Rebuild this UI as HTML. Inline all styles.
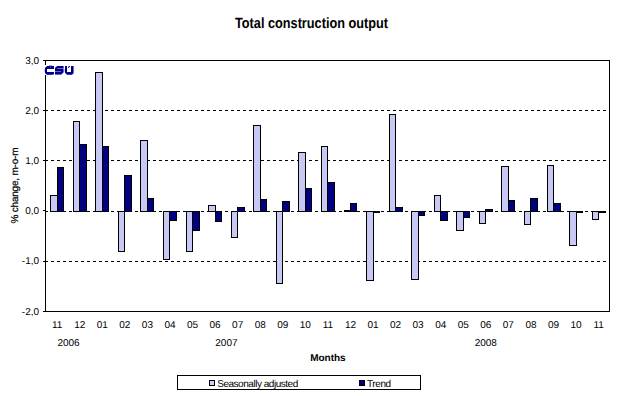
<!DOCTYPE html>
<html><head><meta charset="utf-8"><style>
html,body{margin:0;padding:0;background:#fff;width:626px;height:396px;overflow:hidden}
svg{display:block}
.t{font-family:"Liberation Sans",sans-serif;font-size:10px;fill:#000}
.b{font-weight:bold}
.title{font-family:"Liberation Sans",sans-serif;font-size:13.6px;font-weight:bold;fill:#000}
.lg{letter-spacing:-0.4px}
</style></head><body>
<svg width="626" height="396" viewBox="0 0 626 396" shape-rendering="crispEdges">
<line x1="45" y1="110.5" x2="609" y2="110.5" stroke="#000" stroke-width="1" stroke-dasharray="3 3"/>
<line x1="45" y1="160.5" x2="609" y2="160.5" stroke="#000" stroke-width="1" stroke-dasharray="3 3"/>
<line x1="45" y1="211.5" x2="609" y2="211.5" stroke="#000" stroke-width="1" stroke-dasharray="3 3"/>
<line x1="45" y1="261.5" x2="609" y2="261.5" stroke="#000" stroke-width="1" stroke-dasharray="3 3"/>
<rect x="50" y="195" width="8" height="17" fill="#000"/>
<rect x="51" y="196" width="6" height="15" fill="#c8c8f5"/>
<rect x="57" y="167" width="7" height="45" fill="#000"/>
<rect x="58" y="168" width="5" height="43" fill="#000080"/>
<rect x="73" y="121" width="7" height="91" fill="#000"/>
<rect x="74" y="122" width="5" height="89" fill="#c8c8f5"/>
<rect x="79" y="144" width="8" height="68" fill="#000"/>
<rect x="80" y="145" width="6" height="66" fill="#000080"/>
<rect x="95" y="72" width="8" height="140" fill="#000"/>
<rect x="96" y="73" width="6" height="138" fill="#c8c8f5"/>
<rect x="102" y="146" width="7" height="66" fill="#000"/>
<rect x="103" y="147" width="5" height="64" fill="#000080"/>
<rect x="118" y="211" width="7" height="41" fill="#000"/>
<rect x="119" y="212" width="5" height="39" fill="#c8c8f5"/>
<rect x="124" y="175" width="8" height="37" fill="#000"/>
<rect x="125" y="176" width="6" height="35" fill="#000080"/>
<rect x="140" y="140" width="8" height="72" fill="#000"/>
<rect x="141" y="141" width="6" height="70" fill="#c8c8f5"/>
<rect x="147" y="198" width="7" height="14" fill="#000"/>
<rect x="148" y="199" width="5" height="12" fill="#000080"/>
<rect x="163" y="211" width="7" height="49" fill="#000"/>
<rect x="164" y="212" width="5" height="47" fill="#c8c8f5"/>
<rect x="169" y="211" width="8" height="10" fill="#000"/>
<rect x="170" y="212" width="6" height="8" fill="#000080"/>
<rect x="186" y="211" width="7" height="41" fill="#000"/>
<rect x="187" y="212" width="5" height="39" fill="#c8c8f5"/>
<rect x="192" y="211" width="8" height="20" fill="#000"/>
<rect x="193" y="212" width="6" height="18" fill="#000080"/>
<rect x="208" y="205" width="8" height="7" fill="#000"/>
<rect x="209" y="206" width="6" height="5" fill="#c8c8f5"/>
<rect x="215" y="211" width="7" height="11" fill="#000"/>
<rect x="216" y="212" width="5" height="9" fill="#000080"/>
<rect x="231" y="211" width="7" height="27" fill="#000"/>
<rect x="232" y="212" width="5" height="25" fill="#c8c8f5"/>
<rect x="237" y="207" width="8" height="5" fill="#000"/>
<rect x="238" y="208" width="6" height="3" fill="#000080"/>
<rect x="253" y="125" width="8" height="87" fill="#000"/>
<rect x="254" y="126" width="6" height="85" fill="#c8c8f5"/>
<rect x="260" y="199" width="7" height="13" fill="#000"/>
<rect x="261" y="200" width="5" height="11" fill="#000080"/>
<rect x="276" y="211" width="7" height="73" fill="#000"/>
<rect x="277" y="212" width="5" height="71" fill="#c8c8f5"/>
<rect x="282" y="201" width="8" height="11" fill="#000"/>
<rect x="283" y="202" width="6" height="9" fill="#000080"/>
<rect x="298" y="152" width="8" height="60" fill="#000"/>
<rect x="299" y="153" width="6" height="58" fill="#c8c8f5"/>
<rect x="305" y="188" width="7" height="24" fill="#000"/>
<rect x="306" y="189" width="5" height="22" fill="#000080"/>
<rect x="321" y="146" width="7" height="66" fill="#000"/>
<rect x="322" y="147" width="5" height="64" fill="#c8c8f5"/>
<rect x="327" y="182" width="8" height="30" fill="#000"/>
<rect x="328" y="183" width="6" height="28" fill="#000080"/>
<rect x="344" y="210" width="7" height="2" fill="#000"/>
<rect x="350" y="203" width="7" height="9" fill="#000"/>
<rect x="351" y="204" width="5" height="7" fill="#000080"/>
<rect x="366" y="211" width="8" height="70" fill="#000"/>
<rect x="367" y="212" width="6" height="68" fill="#c8c8f5"/>
<rect x="373" y="211" width="7" height="2" fill="#000"/>
<rect x="389" y="114" width="7" height="98" fill="#000"/>
<rect x="390" y="115" width="5" height="96" fill="#c8c8f5"/>
<rect x="395" y="207" width="8" height="5" fill="#000"/>
<rect x="396" y="208" width="6" height="3" fill="#000080"/>
<rect x="411" y="211" width="8" height="69" fill="#000"/>
<rect x="412" y="212" width="6" height="67" fill="#c8c8f5"/>
<rect x="418" y="211" width="7" height="5" fill="#000"/>
<rect x="419" y="212" width="5" height="3" fill="#000080"/>
<rect x="434" y="195" width="7" height="17" fill="#000"/>
<rect x="435" y="196" width="5" height="15" fill="#c8c8f5"/>
<rect x="440" y="211" width="8" height="10" fill="#000"/>
<rect x="441" y="212" width="6" height="8" fill="#000080"/>
<rect x="456" y="211" width="8" height="20" fill="#000"/>
<rect x="457" y="212" width="6" height="18" fill="#c8c8f5"/>
<rect x="463" y="211" width="7" height="7" fill="#000"/>
<rect x="464" y="212" width="5" height="5" fill="#000080"/>
<rect x="479" y="211" width="7" height="13" fill="#000"/>
<rect x="480" y="212" width="5" height="11" fill="#c8c8f5"/>
<rect x="485" y="209" width="8" height="3" fill="#000"/>
<rect x="486" y="210" width="6" height="1" fill="#000080"/>
<rect x="501" y="166" width="8" height="46" fill="#000"/>
<rect x="502" y="167" width="6" height="44" fill="#c8c8f5"/>
<rect x="508" y="200" width="7" height="12" fill="#000"/>
<rect x="509" y="201" width="5" height="10" fill="#000080"/>
<rect x="524" y="211" width="7" height="14" fill="#000"/>
<rect x="525" y="212" width="5" height="12" fill="#c8c8f5"/>
<rect x="530" y="198" width="8" height="14" fill="#000"/>
<rect x="531" y="199" width="6" height="12" fill="#000080"/>
<rect x="547" y="165" width="7" height="47" fill="#000"/>
<rect x="548" y="166" width="5" height="45" fill="#c8c8f5"/>
<rect x="553" y="203" width="8" height="9" fill="#000"/>
<rect x="554" y="204" width="6" height="7" fill="#000080"/>
<rect x="569" y="211" width="8" height="35" fill="#000"/>
<rect x="570" y="212" width="6" height="33" fill="#c8c8f5"/>
<rect x="576" y="211" width="7" height="2" fill="#000"/>
<rect x="592" y="211" width="7" height="9" fill="#000"/>
<rect x="593" y="212" width="5" height="7" fill="#c8c8f5"/>
<rect x="598" y="211" width="8" height="2" fill="#000"/>
<rect x="45" y="60" width="565" height="1" fill="#000"/>
<rect x="45" y="311" width="565" height="1" fill="#000"/>
<rect x="45" y="60" width="1" height="252" fill="#000"/>
<rect x="609" y="60" width="1" height="252" fill="#000"/>
<rect x="43" y="60" width="5" height="1" fill="#000"/>
<rect x="43" y="110" width="5" height="1" fill="#000"/>
<rect x="43" y="160" width="5" height="1" fill="#000"/>
<rect x="43" y="261" width="5" height="1" fill="#000"/>
<rect x="43" y="311" width="5" height="1" fill="#000"/>
<rect x="43" y="210" width="2" height="1" fill="#000"/>
<rect x="46" y="211" width="2" height="1" fill="#000"/>
<rect x="45" y="65" width="1" height="10" fill="#fff"/>
<g fill="#00008c">
<rect x="49" y="65" width="3" height="1" fill-opacity="0.4"/>
<rect x="46" y="66" width="1" height="1" fill-opacity="0.4"/>
<rect x="47" y="66" width="3" height="1"/>
<rect x="50" y="66" width="1" height="1" fill-opacity="0.8"/>
<rect x="51" y="66" width="3" height="1"/>
<rect x="56" y="66" width="1" height="1" fill-opacity="0.4"/>
<rect x="57" y="66" width="6" height="1"/>
<rect x="63" y="66" width="1" height="1" fill-opacity="0.6"/>
<rect x="65" y="66" width="2" height="1"/>
<rect x="68" y="66" width="1" height="1" fill-opacity="0.4"/>
<rect x="69" y="66" width="1" height="1" fill-opacity="0.8"/>
<rect x="71" y="66" width="2" height="1"/>
<rect x="73" y="66" width="1" height="1" fill-opacity="0.6"/>
<rect x="45" y="67" width="1" height="1" fill-opacity="0.6"/>
<rect x="46" y="67" width="4" height="1"/>
<rect x="50" y="67" width="1" height="1" fill-opacity="0.8"/>
<rect x="51" y="67" width="3" height="1"/>
<rect x="55" y="67" width="1" height="1" fill-opacity="0.6"/>
<rect x="56" y="67" width="7" height="1"/>
<rect x="63" y="67" width="1" height="1" fill-opacity="0.6"/>
<rect x="65" y="67" width="2" height="1"/>
<rect x="68" y="67" width="1" height="1" fill-opacity="0.8"/>
<rect x="69" y="67" width="1" height="1" fill-opacity="0.2"/>
<rect x="71" y="67" width="2" height="1"/>
<rect x="73" y="67" width="1" height="1" fill-opacity="0.6"/>
<rect x="45" y="68" width="9" height="1"/>
<rect x="55" y="68" width="2" height="1"/>
<rect x="57" y="68" width="6" height="1" fill-opacity="0.6"/>
<rect x="63" y="68" width="1" height="1" fill-opacity="0.4"/>
<rect x="65" y="68" width="2" height="1"/>
<rect x="71" y="68" width="2" height="1"/>
<rect x="73" y="68" width="1" height="1" fill-opacity="0.6"/>
<rect x="44" y="69" width="1" height="1" fill-opacity="0.2"/>
<rect x="45" y="69" width="2" height="1"/>
<rect x="55" y="69" width="8" height="1"/>
<rect x="63" y="69" width="1" height="1" fill-opacity="0.6"/>
<rect x="64" y="69" width="1" height="1" fill-opacity="0.2"/>
<rect x="65" y="69" width="2" height="1"/>
<rect x="71" y="69" width="2" height="1"/>
<rect x="73" y="69" width="1" height="1" fill-opacity="0.6"/>
<rect x="44" y="70" width="1" height="1" fill-opacity="0.2"/>
<rect x="45" y="70" width="2" height="1"/>
<rect x="55" y="70" width="8" height="1"/>
<rect x="63" y="70" width="1" height="1" fill-opacity="0.6"/>
<rect x="64" y="70" width="1" height="1" fill-opacity="0.2"/>
<rect x="65" y="70" width="2" height="1"/>
<rect x="71" y="70" width="2" height="1"/>
<rect x="73" y="70" width="1" height="1" fill-opacity="0.6"/>
<rect x="44" y="71" width="1" height="1" fill-opacity="0.2"/>
<rect x="45" y="71" width="2" height="1"/>
<rect x="55" y="71" width="6" height="1" fill-opacity="0.6"/>
<rect x="61" y="71" width="2" height="1"/>
<rect x="63" y="71" width="1" height="1" fill-opacity="0.6"/>
<rect x="64" y="71" width="1" height="1" fill-opacity="0.2"/>
<rect x="65" y="71" width="2" height="1"/>
<rect x="71" y="71" width="2" height="1"/>
<rect x="73" y="71" width="1" height="1" fill-opacity="0.6"/>
<rect x="45" y="72" width="9" height="1"/>
<rect x="55" y="72" width="8" height="1"/>
<rect x="63" y="72" width="1" height="1" fill-opacity="0.4"/>
<rect x="65" y="72" width="8" height="1"/>
<rect x="73" y="72" width="1" height="1" fill-opacity="0.6"/>
<rect x="45" y="73" width="1" height="1" fill-opacity="0.6"/>
<rect x="46" y="73" width="8" height="1"/>
<rect x="55" y="73" width="7" height="1"/>
<rect x="62" y="73" width="1" height="1" fill-opacity="0.4"/>
<rect x="65" y="73" width="1" height="1" fill-opacity="0.4"/>
<rect x="66" y="73" width="7" height="1"/>
<rect x="73" y="73" width="1" height="1" fill-opacity="0.3"/>
<rect x="46" y="74" width="1" height="1" fill-opacity="0.4"/>
<rect x="47" y="74" width="6" height="1" fill-opacity="0.8"/>
<rect x="53" y="74" width="1" height="1" fill-opacity="0.4"/>
<rect x="55" y="74" width="6" height="1" fill-opacity="0.6"/>
<rect x="61" y="74" width="1" height="1" fill-opacity="0.3"/>
<rect x="66" y="74" width="1" height="1" fill-opacity="0.3"/>
<rect x="67" y="74" width="5" height="1" fill-opacity="0.8"/>
<rect x="72" y="74" width="1" height="1" fill-opacity="0.3"/>
</g>
<rect x="177.5" y="375.5" width="243" height="14" fill="#fff" stroke="#000" stroke-width="1"/>
<rect x="209.5" y="380.5" width="5" height="5" fill="#ccccff" stroke="#000"/>
<rect x="359.5" y="380.5" width="5" height="5" fill="#000080" stroke="#000"/>
<text x="217.2" y="387" class="t lg" style="letter-spacing:-0.47px" text-rendering="geometricPrecision">Seasonally adjusted</text>
<text x="367" y="387" class="t lg" text-rendering="geometricPrecision">Trend</text>
<g shape-rendering="auto" text-rendering="geometricPrecision">
<text x="57.18" y="328" text-anchor="middle" class="t">11</text>
<text x="79.74" y="328" text-anchor="middle" class="t">12</text>
<text x="102.30" y="328" text-anchor="middle" class="t">01</text>
<text x="124.86" y="328" text-anchor="middle" class="t">02</text>
<text x="147.42" y="328" text-anchor="middle" class="t">03</text>
<text x="169.98" y="328" text-anchor="middle" class="t">04</text>
<text x="192.54" y="328" text-anchor="middle" class="t">05</text>
<text x="215.10" y="328" text-anchor="middle" class="t">06</text>
<text x="237.66" y="328" text-anchor="middle" class="t">07</text>
<text x="260.22" y="328" text-anchor="middle" class="t">08</text>
<text x="282.78" y="328" text-anchor="middle" class="t">09</text>
<text x="305.34" y="328" text-anchor="middle" class="t">10</text>
<text x="327.90" y="328" text-anchor="middle" class="t">11</text>
<text x="350.46" y="328" text-anchor="middle" class="t">12</text>
<text x="373.02" y="328" text-anchor="middle" class="t">01</text>
<text x="395.58" y="328" text-anchor="middle" class="t">02</text>
<text x="418.14" y="328" text-anchor="middle" class="t">03</text>
<text x="440.70" y="328" text-anchor="middle" class="t">04</text>
<text x="463.26" y="328" text-anchor="middle" class="t">05</text>
<text x="485.82" y="328" text-anchor="middle" class="t">06</text>
<text x="508.38" y="328" text-anchor="middle" class="t">07</text>
<text x="530.94" y="328" text-anchor="middle" class="t">08</text>
<text x="553.50" y="328" text-anchor="middle" class="t">09</text>
<text x="576.06" y="328" text-anchor="middle" class="t">10</text>
<text x="598.62" y="328" text-anchor="middle" class="t">11</text>
<text x="68.50" y="346" text-anchor="middle" class="t">2006</text>
<text x="226.40" y="346" text-anchor="middle" class="t">2007</text>
<text x="485.80" y="346" text-anchor="middle" class="t">2008</text>
<text x="39.1" y="64" text-anchor="end" class="t">3,0</text>
<text x="39.1" y="114" text-anchor="end" class="t">2,0</text>
<text x="39.1" y="164" text-anchor="end" class="t">1,0</text>
<text x="39.1" y="214" text-anchor="end" class="t">0,0</text>
<text x="39.1" y="264" text-anchor="end" class="t">-1,0</text>
<text x="39.1" y="315" text-anchor="end" class="t">-2,0</text>
<text x="327.9" y="361" text-anchor="middle" class="t b">Months</text>
<text transform="translate(311.5,28) scale(0.935,1.09)" text-anchor="middle" class="title">Total construction output</text>
<text transform="translate(18.0,185.6) rotate(-90)" text-anchor="middle" class="t" style="font-size:10px;letter-spacing:-0.2px;stroke:#000;stroke-width:0.2px">% change, m-o-m</text>
</g>
</svg>
</body></html>
